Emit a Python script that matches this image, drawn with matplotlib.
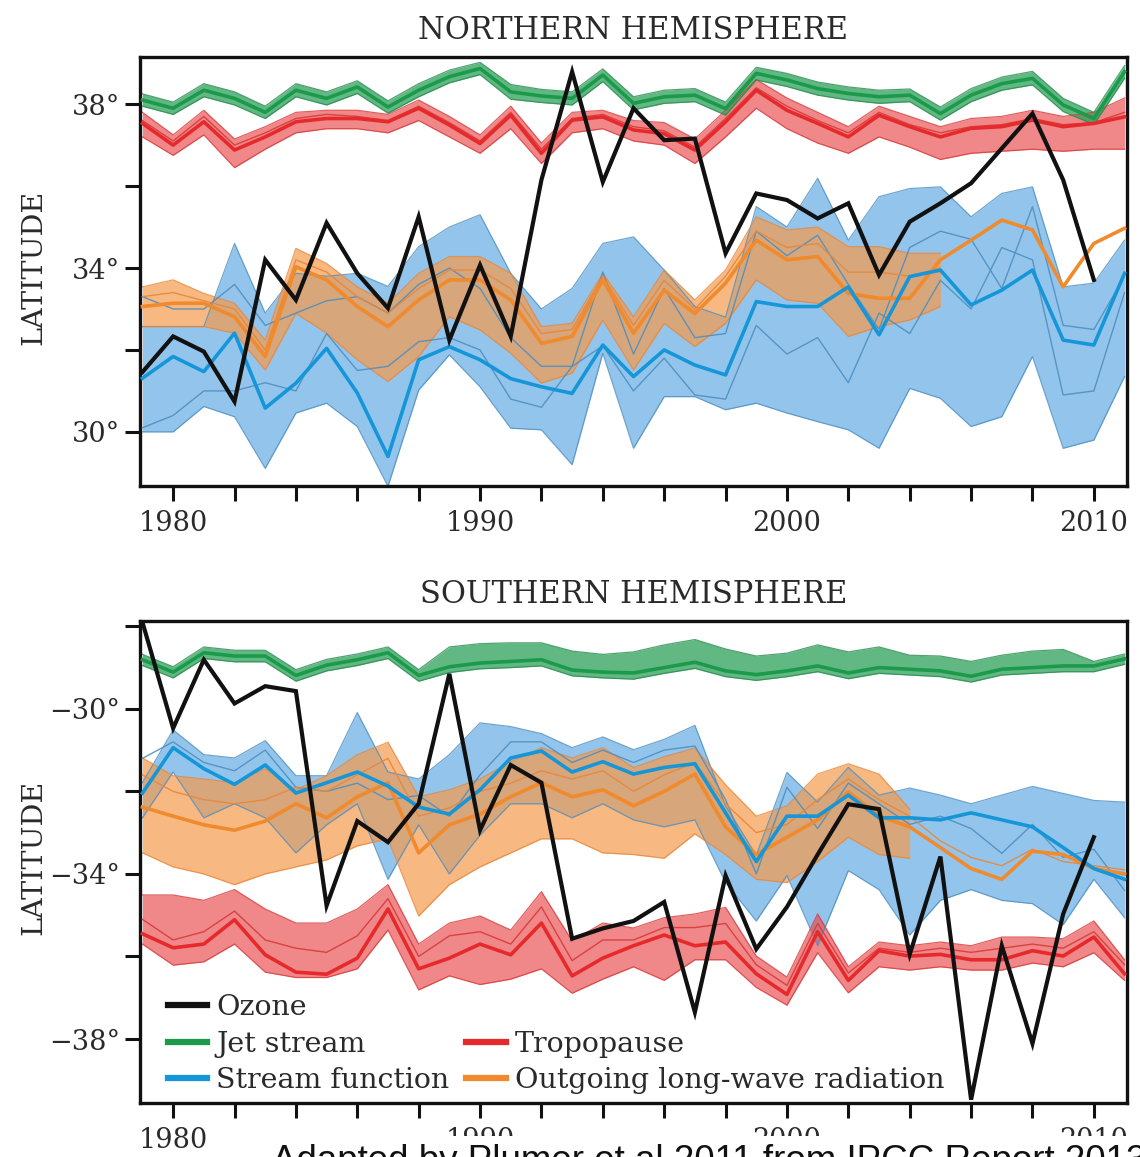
import numpy as np
import matplotlib
matplotlib.use("Agg")
import matplotlib.pyplot as plt
from matplotlib.patches import Rectangle
from matplotlib.lines import Line2D

plt.rcParams['font.family'] = ['DejaVu Serif']

YEARS = list(range(1979, 2012))
YEARS_OZ = list(range(1979, 2011))
YEARS_NH_OLR_BAND = list(range(1979, 2006))
YEARS_SH_OLR_BAND = list(range(1979, 2005))

# ---------------- Northern hemisphere ----------------
nh_ozone = [31.46, 32.33, 31.96, 30.74, 34.2, 33.22, 35.1, 33.87, 33.02, 35.25, 32.24, 34.07,
            32.33, 36.15, 38.79, 36.1, 37.9, 37.12, 37.16, 34.36, 35.82, 35.66, 35.21, 35.58,
            33.83, 35.13, 35.58, 36.07, 36.92, 37.77, 36.15, 33.71]

nh_jet = [38.1, 37.9, 38.34, 38.14, 37.8, 38.34, 38.14, 38.42, 37.93, 38.34, 38.67, 38.87, 38.3,
          38.2, 38.14, 38.71, 38.02, 38.18, 38.22, 37.89, 38.75, 38.59, 38.38, 38.26, 38.18, 38.22,
          37.77, 38.22, 38.5, 38.63, 37.98, 37.65, 38.79]
nh_jet_hi = [38.25, 38.05, 38.5, 38.3, 37.95, 38.5, 38.3, 38.57, 38.08, 38.5, 38.83, 39.02, 38.48,
             38.36, 38.3, 38.86, 38.18, 38.34, 38.38, 38.05, 38.9, 38.75, 38.54, 38.42, 38.34, 38.37,
             37.93, 38.38, 38.66, 38.8, 38.14, 37.8, 38.94]
nh_jet_lo = [37.95, 37.75, 38.18, 37.98, 37.65, 38.18, 37.98, 38.26, 37.78, 38.18, 38.52, 38.72, 38.12,
             38.04, 37.98, 38.55, 37.86, 38.02, 38.06, 37.73, 38.59, 38.43, 38.22, 38.1, 38.02, 38.06,
             37.61, 38.06, 38.34, 38.47, 37.82, 37.5, 38.63]

nh_trop = [37.53, 37.0, 37.57, 36.88, 37.2, 37.57, 37.65, 37.65, 37.57, 37.9, 37.49, 37.04, 37.73,
           36.8, 37.61, 37.69, 37.37, 37.28, 36.88, 37.57, 38.34, 37.85, 37.53, 37.2, 37.73, 37.45,
           37.2, 37.41, 37.45, 37.61, 37.45, 37.53, 37.69]
nh_trop_hi = [37.8, 37.25, 37.85, 37.15, 37.45, 37.8, 37.85, 37.85, 37.75, 38.1, 37.7, 37.25, 37.95,
              37.05, 37.8, 37.85, 37.6, 37.55, 37.15, 37.85, 38.6, 38.15, 37.8, 37.45, 37.95, 37.7,
              37.45, 37.65, 37.7, 37.85, 37.7, 37.8, 38.15]
nh_trop_lo = [37.2, 36.75, 37.25, 36.45, 36.9, 37.3, 37.4, 37.4, 37.3, 37.6, 37.2, 36.8, 37.4,
              36.55, 37.3, 37.4, 37.1, 37.0, 36.55, 37.2, 37.9, 37.4, 37.05, 36.8, 37.2, 36.95,
              36.65, 36.8, 36.85, 36.9, 36.85, 36.9, 36.9]
nh_trop_thin = [37.6, 37.1, 37.7, 37.0, 37.3, 37.65, 37.75, 37.7, 37.6, 37.95, 37.55, 37.1, 37.8,
                36.9, 37.65, 37.75, 37.45, 37.35, 36.95, 37.65, 38.4, 37.95, 37.6, 37.3, 37.8, 37.5,
                37.3, 37.45, 37.5, 37.65, 37.5, 37.55, 37.8]

nh_sf = [31.31, 31.84, 31.47, 32.41, 30.58, 31.19, 32.04, 30.95, 29.4, 31.76, 32.08, 31.76, 31.3,
         31.1, 30.94, 32.12, 31.35, 32.0, 31.63, 31.39, 33.18, 33.06, 33.06, 33.54, 32.37, 33.79,
         33.95, 33.1, 33.46, 33.95, 32.24, 32.12, 33.87]
nh_sf_hi = [32.57, 32.57, 32.57, 34.6, 32.9, 33.87, 33.8, 33.87, 33.55, 34.52, 35.0, 35.3, 33.87,
            33.0, 33.5, 34.6, 34.76, 33.95, 33.06, 32.8, 35.5, 35.0, 36.19, 34.68, 35.74, 35.94,
            35.98, 35.25, 35.82, 35.98, 33.54, 33.63, 34.68]
nh_sf_lo = [30.0, 30.0, 30.62, 30.37, 29.11, 30.46, 30.7, 30.13, 28.67, 31.02, 31.88, 31.1, 30.09,
            30.05, 29.2, 31.92, 29.6, 30.86, 30.86, 30.54, 30.7, 30.46, 30.25, 30.05, 29.6, 31.06,
            30.82, 30.13, 30.37, 31.84, 29.6, 29.8, 31.35]
nh_sf_thin = [33.3, 33.0, 33.0, 33.6, 32.6, 32.9, 33.2, 33.3, 32.9, 33.6, 34.0, 33.5, 32.3,
              31.6, 31.6, 33.9, 31.9, 33.5, 32.3, 32.4, 34.9, 34.3, 34.8, 33.6, 32.5, 34.5,
              34.9, 34.7, 33.5, 35.5, 32.6, 32.5, 33.8]
nh_sf_thin2 = [30.1, 30.4, 31.0, 31.0, 31.2, 31.0, 32.4, 31.5, 31.6, 32.2, 32.3, 32.0, 30.8,
               30.6, 31.6, 32.1, 31.0, 31.8, 30.9, 30.8, 32.6, 31.9, 32.3, 31.2, 32.9, 32.4,
               33.7, 33.0, 34.5, 34.2, 30.9, 31.0, 33.4]

nh_olr = [33.06, 33.14, 33.14, 32.81, 31.84, 34.03, 33.71, 33.06, 32.57, 33.22, 33.71, 33.71, 33.22,
          32.16, 32.33, 33.71, 32.41, 33.46, 32.89, 33.63, 34.68, 34.2, 34.28, 33.38, 33.26, 33.26,
          34.2, 34.68, 35.17, 34.93, 33.54, 34.6, 34.97]
nh_olr_hi = [33.54, 33.71, 33.38, 33.14, 32.24, 34.48, 34.11, 33.54, 33.14, 33.87, 34.28, 34.28, 33.87,
             32.57, 32.65, 33.87, 32.81, 33.95, 33.22, 33.95, 35.25, 34.93, 35.0, 34.52, 34.52, 34.36,
             34.36]
nh_olr_lo = [32.57, 32.57, 32.57, 32.41, 31.51, 32.89, 32.41, 31.76, 31.23, 31.84, 32.81, 32.49, 31.92,
             31.19, 31.43, 32.73, 31.51, 32.65, 32.08, 32.65, 33.71, 33.22, 33.14, 32.33, 32.57, 32.73,
             33.06]
nh_olr_thin = [33.3, 33.4, 33.2, 33.0, 32.0, 34.2, 33.9, 33.3, 32.9, 33.5, 33.95, 33.95, 33.5,
               32.4, 32.5, 33.8, 32.6, 33.7, 33.0, 33.8, 34.9, 34.5, 34.6, 33.9, 33.9, 33.8, 34.0]

# ---------------- Southern hemisphere ----------------
sh_ozone = [-27.9, -30.47, -28.81, -29.87, -29.45, -29.57, -34.77, -32.72, -33.23, -32.3, -29.15,
            -32.94, -31.36, -31.79, -35.57, -35.32, -35.14, -34.68, -37.35, -34.04, -35.82, -34.8,
            -33.53, -32.31, -32.43, -35.95, -33.58, -39.47, -35.74, -38.11, -34.97, -33.11]

sh_jet = [-28.81, -29.11, -28.64, -28.72, -28.72, -29.19, -28.94, -28.81, -28.64, -29.19, -28.98,
          -28.89, -28.85, -28.81, -29.06, -29.11, -29.13, -29.0, -28.87, -29.08, -29.17, -29.08,
          -28.96, -29.13, -29.0, -29.04, -29.08, -29.21, -29.04, -29.0, -28.96, -28.96, -28.79]
sh_jet_hi = [-28.68, -28.98, -28.5, -28.58, -28.58, -29.05, -28.8, -28.67, -28.5, -29.05, -28.5,
             -28.42, -28.4, -28.4, -28.6, -28.68, -28.62, -28.45, -28.32, -28.55, -28.72, -28.65,
             -28.45, -28.62, -28.5, -28.7, -28.72, -28.85, -28.7, -28.6, -28.56, -28.85, -28.67]
sh_jet_lo = [-28.95, -29.25, -28.78, -28.86, -28.86, -29.33, -29.08, -28.95, -28.78, -29.33, -29.12,
             -29.03, -29.0, -28.96, -29.2, -29.25, -29.28, -29.14, -29.02, -29.22, -29.31, -29.22,
             -29.1, -29.27, -29.14, -29.18, -29.22, -29.35, -29.18, -29.14, -29.1, -29.1, -28.92]

sh_trop = [-35.45, -35.79, -35.7, -35.11, -35.96, -36.38, -36.43, -36.04, -34.85, -36.3, -36.04,
           -35.7, -35.96, -35.19, -36.47, -36.04, -35.74, -35.48, -35.74, -35.65, -36.42, -36.92,
           -35.4, -36.58, -35.86, -35.99, -35.95, -36.08, -36.08, -35.86, -35.99, -35.53, -36.42]
sh_trop_hi = [-34.51, -34.51, -34.64, -34.38, -34.85, -35.19, -35.19, -34.85, -34.26, -35.7, -35.19,
              -35.02, -35.36, -34.43, -35.62, -35.19, -35.31, -35.06, -34.97, -34.81, -35.99, -36.5,
              -34.97, -36.25, -35.65, -35.74, -35.65, -35.74, -35.53, -35.53, -35.57, -35.14, -36.08]
sh_trop_lo = [-35.7, -36.21, -36.13, -35.7, -36.38, -36.51, -36.51, -36.3, -35.36, -36.81, -36.47,
              -36.68, -36.55, -36.3, -36.89, -36.55, -36.25, -36.58, -36.08, -36.08, -36.75, -37.18,
              -35.91, -36.88, -36.25, -36.33, -36.25, -36.33, -36.33, -36.16, -36.25, -35.91, -36.58]
sh_trop_thin = [-35.1, -35.6, -35.4, -34.9, -35.6, -35.8, -35.9, -35.5, -34.6, -36.0, -35.5,
                -35.4, -35.7, -34.8, -36.1, -35.6, -35.6, -35.3, -35.3, -35.2, -36.2, -36.7,
                -35.2, -36.4, -35.8, -35.9, -35.8, -35.9, -35.8, -35.7, -35.8, -35.4, -36.2]

sh_sf = [-32.04, -30.94, -31.45, -31.83, -31.36, -32.04, -31.79, -31.53, -31.87, -32.38, -32.55,
         -31.96, -31.19, -31.02, -31.53, -31.28, -31.58, -31.42, -31.33, -32.52, -33.7, -32.6,
         -32.6, -32.09, -32.64, -32.64, -32.69, -32.52, -32.69, -32.86, -33.36, -33.87, -34.13]
sh_sf_hi = [-31.79, -30.51, -31.11, -31.19, -30.77, -31.62, -31.62, -30.09, -31.53, -31.7, -31.11,
            -30.34, -30.43, -30.6, -30.94, -30.68, -30.99, -30.74, -30.4, -32.35, -33.55, -31.54,
            -32.26, -31.42, -32.09, -31.92, -32.09, -32.3, -32.09, -31.88, -32.05, -32.22, -32.26]
sh_sf_lo = [-32.64, -31.53, -32.64, -32.3, -32.64, -33.49, -32.81, -32.3, -34.13, -32.81, -34.0,
            -33.06, -32.3, -32.3, -32.64, -32.3, -32.69, -32.86, -32.69, -34.21, -35.14, -34.04,
            -35.74, -33.92, -34.38, -35.48, -34.64, -34.38, -34.64, -34.72, -35.23, -34.13, -35.06]
sh_sf_thin = [-31.2, -30.8, -31.3, -31.5, -31.0, -31.9, -32.0, -31.8, -32.2, -32.1, -32.6,
              -31.6, -30.8, -30.8, -31.3, -31.0, -31.3, -31.0, -30.9, -32.2, -34.0, -31.9,
              -32.9, -31.8, -32.3, -32.8, -32.6, -32.9, -33.5, -32.8, -33.6, -33.4, -34.4]

sh_olr = [-32.38, -32.6, -32.81, -32.94, -32.72, -32.3, -32.64, -32.13, -31.79, -33.49, -32.81,
          -32.55, -32.13, -31.79, -32.13, -31.96, -32.35, -32.0, -31.58, -32.86, -33.53, -33.11,
          -32.69, -32.01, -32.6, -32.86, -33.36, -33.87, -34.13, -33.45, -33.53, -33.87, -34.0]
sh_olr_hi = [-31.19, -31.62, -31.7, -31.79, -31.45, -31.96, -31.62, -31.11, -30.81, -32.13, -31.96,
             -31.7, -31.28, -30.94, -31.19, -30.94, -31.42, -31.16, -30.95, -31.84, -32.6, -32.35,
             -31.58, -31.33, -31.58, -32.43]
sh_olr_lo = [-33.49, -33.83, -34.0, -34.26, -34.0, -33.83, -33.66, -33.32, -33.15, -35.02, -34.26,
             -33.83, -33.49, -33.15, -33.15, -33.49, -33.53, -33.62, -33.03, -33.53, -34.13, -34.21,
             -33.7, -33.11, -33.53, -33.62]
sh_olr_thin = [-31.6, -32.0, -32.2, -32.3, -32.2, -31.9, -32.0, -31.6, -31.2, -32.6, -32.4,
               -32.0, -31.8, -31.5, -31.7, -31.5, -32.0, -31.6, -31.3, -32.3, -33.0, -32.8,
               -32.2, -31.7, -32.2, -32.6, -33.2, -33.6, -33.8, -33.4, -33.7, -33.8, -33.9]

# colours
GREEN, GREEN_FILL = '#1b9a4b', '#2ea05a'
RED, RED_FILL = '#e62a2c', '#e8474a'
BLUE, BLUE_FILL, BLUE_EDGE = '#1596d8', '#93c5ec', '#4f8fc0'
ORANGE, ORANGE_FILL = '#f08a2c', '#f59a4c'
TXT = '#2a2a2a'


def band(ax, x, lo, hi, fill, edge, alpha):
    ax.fill_between(x, lo, hi, color=fill, alpha=alpha, lw=0, zorder=1)
    ax.plot(x, lo, color=edge, lw=0.9, alpha=0.8, zorder=2)
    ax.plot(x, hi, color=edge, lw=0.9, alpha=0.8, zorder=2)


def draw_panel(ax, d):
    band(ax, YEARS, d['sf_lo'], d['sf_hi'], BLUE_FILL, BLUE_EDGE, 1.0)
    band(ax, d['olr_band_years'], d['olr_lo'], d['olr_hi'], ORANGE_FILL, '#e8873a', 0.7)
    band(ax, YEARS, d['trop_lo'], d['trop_hi'], RED_FILL, '#d83a3a', 0.65)
    band(ax, YEARS, d['jet_lo'], d['jet_hi'], GREEN_FILL, '#2a8c50', 0.75)

    for key, col in [('sf_thin', BLUE_EDGE), ('sf_thin2', BLUE_EDGE),
                     ('olr_thin', '#e8873a'), ('trop_thin', '#d83a3a')]:
        if key in d:
            yy = d[key]
            ax.plot(YEARS[:len(yy)], yy, color=col, lw=1.0, alpha=0.9, zorder=3)

    ax.plot(YEARS, d['olr'], color=ORANGE, lw=2.6, zorder=4)
    ax.plot(YEARS, d['sf'], color=BLUE, lw=2.6, zorder=4)
    ax.plot(YEARS, d['trop'], color=RED, lw=2.6, zorder=4)
    ax.plot(YEARS, d['jet'], color=GREEN, lw=2.6, zorder=4)
    ax.plot(YEARS_OZ, d['ozone'], color='#111111', lw=3.0, zorder=5, solid_joinstyle='miter')

    ax.set_xlim(1978.92, 2011.08)
    xt = list(range(1980, 2011, 2))
    ax.set_xticks(xt)
    ax.set_xticklabels([str(v) if v % 10 == 0 else '' for v in xt])
    ax.tick_params(axis='both', direction='out', length=11, width=2.2,
                   labelsize=19.5, colors='#111111', labelcolor=TXT)
    ax.tick_params(axis='x', pad=6)
    ax.tick_params(axis='y', pad=3)
    for s in ax.spines.values():
        s.set_linewidth(2.4)
        s.set_color('#111111')
    ax.set_ylabel('LATITUDE', fontsize=20.5, color=TXT)
    ax.yaxis.set_label_coords(-0.094, 0.51)
    ax.set_title(d['title'], fontsize=22, color=TXT, pad=13)


fig = plt.figure(figsize=(11.4, 11.57), dpi=100)
ax1 = fig.add_axes([0.1228, 0.5800, 0.8658, 0.3707])
ax2 = fig.add_axes([0.1228, 0.0467, 0.8658, 0.4166])

nh = dict(title='NORTHERN HEMISPHERE', ozone=nh_ozone,
          jet=nh_jet, jet_hi=nh_jet_hi, jet_lo=nh_jet_lo,
          trop=nh_trop, trop_hi=nh_trop_hi, trop_lo=nh_trop_lo, trop_thin=nh_trop_thin,
          sf=nh_sf, sf_hi=nh_sf_hi, sf_lo=nh_sf_lo, sf_thin=nh_sf_thin, sf_thin2=nh_sf_thin2,
          olr=nh_olr, olr_hi=nh_olr_hi, olr_lo=nh_olr_lo, olr_thin=nh_olr_thin,
          olr_band_years=YEARS_NH_OLR_BAND)
sh = dict(title='SOUTHERN HEMISPHERE', ozone=sh_ozone,
          jet=sh_jet, jet_hi=sh_jet_hi, jet_lo=sh_jet_lo,
          trop=sh_trop, trop_hi=sh_trop_hi, trop_lo=sh_trop_lo, trop_thin=sh_trop_thin,
          sf=sh_sf, sf_hi=sh_sf_hi, sf_lo=sh_sf_lo, sf_thin=sh_sf_thin,
          olr=sh_olr, olr_hi=sh_olr_hi, olr_lo=sh_olr_lo, olr_thin=sh_olr_thin,
          olr_band_years=YEARS_SH_OLR_BAND)

draw_panel(ax1, nh)
draw_panel(ax2, sh)

ax1.set_ylim(28.68, 39.15)
yt = [30, 32, 34, 36, 38]
ax1.set_yticks(yt)
ax1.set_yticklabels([f'{v}°' if v % 4 == 2 else '' for v in yt])

ax2.set_ylim(-39.55, -27.87)
yt = [-38, -36, -34, -32, -30, -28]
ax2.set_yticks(yt)
ax2.set_yticklabels([f'\u2212{-v}°' if v in (-38, -34, -30) else '' for v in yt])

# legend
handles = [
    Line2D([], [], color='#111111', lw=4.5),
    Line2D([], [], color=GREEN, lw=4.5),
    Line2D([], [], color=BLUE, lw=4.5),
    Line2D([], [], color='none', lw=0),
    Line2D([], [], color=RED, lw=4.5),
    Line2D([], [], color=ORANGE, lw=4.5),
]
labels = ['Ozone', 'Jet stream', 'Stream function', '', 'Tropopause', 'Outgoing long-wave radiation']
leg = ax2.legend(handles, labels, ncol=2, loc='lower left', bbox_to_anchor=(0.028, 0.018),
                 frameon=False, fontsize=20.5, handlelength=1.4, handletextpad=0.3,
                 labelspacing=0.34, columnspacing=0.6, borderaxespad=0, borderpad=0)
for t in leg.get_texts():
    t.set_color(TXT)

# source note, partly cut off at the bottom edge
fig.patches.append(Rectangle((230 / 1140, 0), 1.0, 21 / 1157, transform=fig.transFigure,
                             facecolor='white', edgecolor='none', zorder=2))
fig.text(272 / 1140, -14 / 1157, 'Adapted by Plumer et al 2011 from IPCC Report 2013',
         fontsize=26.5, family='Liberation Sans', color='#111111', va='baseline', zorder=3)

fig.savefig('out.png', dpi=100)
